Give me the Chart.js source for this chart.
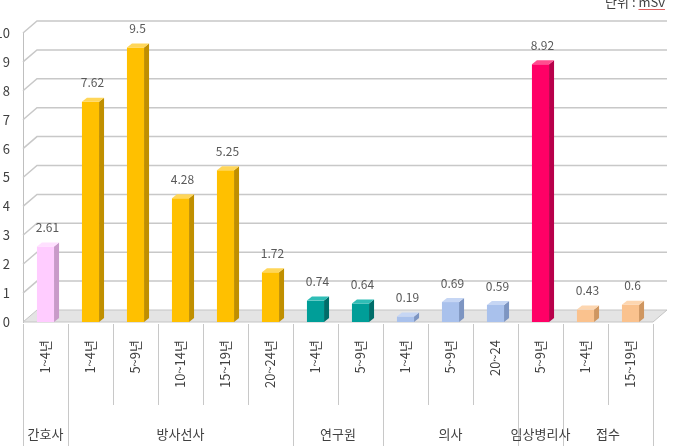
<!DOCTYPE html>
<html lang="ko">
<head>
<meta charset="utf-8">
<title>직종별 근무기간별 피폭선량</title>
<script src="https://cdn.jsdelivr.net/npm/chart.js"></script>
<style>
  html, body { margin: 0; padding: 0; background: #ffffff; }
  #contenedor { width: 675px; height: 446px; }
</style>
</head>
<body>
<div id="contenedor"><canvas id="grafico" width="675" height="446"></canvas></div>
<script>
// Datos (단위 : mSv)
const periodos = ['1~4년', '1~4년', '5~9년', '10~14년', '15~19년', '20~24년',
                  '1~4년', '5~9년', '1~4년', '5~9년', '20~24', '5~9년', '1~4년', '15~19년'];
const valores = [2.61, 7.62, 9.5, 4.28, 5.25, 1.72, 0.74, 0.64, 0.19, 0.69, 0.59, 8.92, 0.43, 0.6];
const grupos = ['간호사', '방사선사', '연구원', '의사', '임상병리사', '접수'];
const gruposCantidad = [1, 5, 2, 3, 1, 2];
const unidad = '단위 : mSv';

// Colores por grupo: frente, lado, techo
const coloresFrente = ['#ffccff', '#ffc000', '#009e98', '#a9c1ec', '#ff0066', '#fac28e'];
const coloresLado = ['#c99ac9', '#c08f00', '#006d69', '#7d95c2', '#b8004a', '#cf9660'];
const coloresTecho = ['#ffe0ff', '#ffd659', '#2fbdb6', '#c6d6f4', '#ff4d8f', '#fdd6b0'];

const FUENTE = "'Noto Sans CJK KR', 'Noto Sans', sans-serif";
const PROF_X = 14, PROF_Y = 12;   // profundidad de la pared del fondo
const BARRA_DX = 5, BARRA_DY = 4; // profundidad de las barras

// Índice de grupo para cada barra
function grupoDeCada() {
    const res = [];
    gruposCantidad.forEach((n, g) => { for (let i = 0; i < n; i++) res.push(g); });
    return res;
}
const grupoIdx = grupoDeCada();

// Pared, suelo, caras laterales y textos
const plugin3D = {
    id: 'efecto3d',
    beforeDatasetsDraw(chart) {
        const { ctx, chartArea: a, scales: { y } } = chart;
        ctx.save();
        // suelo
        ctx.fillStyle = '#e4e4e4';
        ctx.strokeStyle = '#c4c4c4';
        ctx.lineWidth = 1;
        ctx.beginPath();
        ctx.moveTo(a.left, a.bottom);
        ctx.lineTo(a.right, a.bottom);
        ctx.lineTo(a.right + PROF_X, a.bottom - PROF_Y);
        ctx.lineTo(a.left + PROF_X, a.bottom - PROF_Y);
        ctx.closePath();
        ctx.fill();
        ctx.stroke();
        // líneas de la pared
        ctx.strokeStyle = '#c8c8c8';
        ctx.lineWidth = 1.5;
        y.ticks.forEach(t => {
            if (t.value === 0) return;
            const py = y.getPixelForValue(t.value);
            ctx.beginPath();
            ctx.moveTo(a.left, py);
            ctx.lineTo(a.left + PROF_X, py - PROF_Y);
            ctx.lineTo(a.right + PROF_X, py - PROF_Y);
            ctx.stroke();
        });
        ctx.restore();
    },
    afterDatasetsDraw(chart) {
        const { ctx } = chart;
        const meta = chart.getDatasetMeta(0);
        ctx.save();
        meta.data.forEach((barra, i) => {
            const { x, y, base, width } = barra.getProps(['x', 'y', 'base', 'width'], true);
            const izq = x - width / 2, der = x + width / 2;
            const g = grupoIdx[i];
            // cara lateral
            ctx.fillStyle = coloresLado[g];
            ctx.beginPath();
            ctx.moveTo(der, y);
            ctx.lineTo(der + BARRA_DX, y - BARRA_DY);
            ctx.lineTo(der + BARRA_DX, base - BARRA_DY);
            ctx.lineTo(der, base);
            ctx.closePath();
            ctx.fill();
            // techo
            ctx.fillStyle = coloresTecho[g];
            ctx.beginPath();
            ctx.moveTo(izq, y);
            ctx.lineTo(izq + BARRA_DX, y - BARRA_DY);
            ctx.lineTo(der + BARRA_DX, y - BARRA_DY);
            ctx.lineTo(der, y);
            ctx.closePath();
            ctx.fill();
            // valor
            ctx.fillStyle = '#595959';
            ctx.font = '12px ' + FUENTE;
            ctx.textAlign = 'center';
            ctx.textBaseline = 'middle';
            ctx.fillText(String(valores[i]), x + 2, y - 19);
        });
        ctx.restore();
    },
    afterDraw(chart) {
        const { ctx, chartArea: a, scales: { x } } = chart;
        const n = periodos.length;
        const limite = i => {
            if (i === 0) return x.left;
            if (i === n) return x.right;
            return (x.getPixelForValue(i - 1) + x.getPixelForValue(i)) / 2;
        };
        ctx.save();
        ctx.strokeStyle = '#c8c8c8';
        ctx.lineWidth = 1;
        // separadores de cada periodo
        const finGrupo = new Set([0]);
        let acum = 0;
        gruposCantidad.forEach(c => { acum += c; finGrupo.add(acum); });
        for (let i = 0; i <= n; i++) {
            const px = Math.round(limite(i)) + 0.5;
            ctx.beginPath();
            ctx.moveTo(px, a.bottom + 2);
            ctx.lineTo(px, finGrupo.has(i) ? chart.height : a.bottom + 83);
            ctx.stroke();
        }
        // nombres de los grupos
        ctx.fillStyle = '#404040';
        ctx.font = '13px ' + FUENTE;
        ctx.textAlign = 'center';
        ctx.textBaseline = 'middle';
        let inicio = 0;
        grupos.forEach((nombre, g) => {
            const fin = inicio + gruposCantidad[g];
            const cx = (limite(inicio) + limite(fin)) / 2;
            ctx.fillText(nombre, cx, a.bottom + 112);
            inicio = fin;
        });
        // unidad arriba a la derecha
        ctx.textAlign = 'right';
        ctx.textBaseline = 'alphabetic';
        ctx.font = '13px ' + FUENTE;
        ctx.fillText(unidad, chart.width - 10, 7);
        const anchoMsv = ctx.measureText('mSv').width;
        ctx.strokeStyle = '#e06060';
        ctx.beginPath();
        ctx.moveTo(chart.width - 10 - anchoMsv, 9.5);
        ctx.lineTo(chart.width - 10, 9.5);
        ctx.stroke();
        ctx.restore();
    }
};

function crearGrafico() {
    const ctx = document.getElementById('grafico').getContext('2d');
    return new Chart(ctx, {
        type: 'bar',
        data: {
            labels: periodos,
            datasets: [{
                data: valores,
                backgroundColor: grupoIdx.map(g => coloresFrente[g]),
                borderWidth: 0,
                barPercentage: 0.38,
                categoryPercentage: 1
            }]
        },
        options: {
            responsive: false,
            animation: false,
            devicePixelRatio: 1,
            layout: { padding: { top: 33, right: 22, left: 0, bottom: 0 } },
            plugins: {
                legend: { display: false },
                tooltip: { enabled: false }
            },
            scales: {
                x: {
                    offset: true,
                    grid: { display: false, drawTicks: false },
                    border: { display: false },
                    ticks: {
                        autoSkip: false,
                        minRotation: 90,
                        maxRotation: 90,
                        padding: 18,
                        color: '#404040',
                        font: { family: FUENTE, size: 13 }
                    },
                    afterFit(scale) { scale.height = 124; }
                },
                y: {
                    min: 0,
                    max: 10,
                    grid: { display: false, drawTicks: false },
                    border: { display: true, color: '#bfbfbf' },
                    ticks: {
                        stepSize: 1,
                        padding: 13,
                        color: '#404040',
                        font: { family: FUENTE, size: 13 }
                    },
                    afterFit(scale) { scale.width = 23; }
                }
            }
        },
        plugins: [plugin3D]
    });
}

document.addEventListener('DOMContentLoaded', crearGrafico);
</script>
</body>
</html>
